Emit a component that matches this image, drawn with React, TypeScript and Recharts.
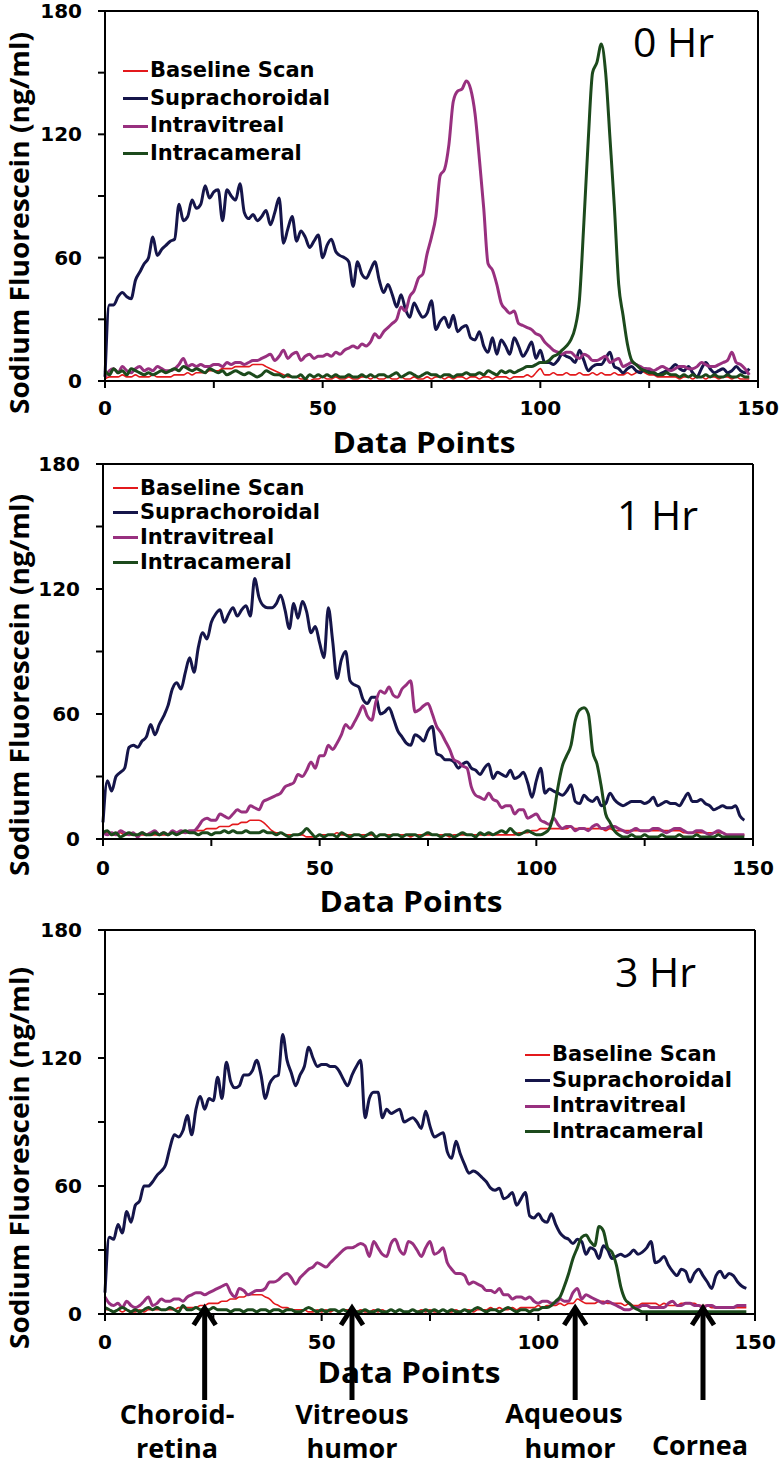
import React from 'react';
import { LineChart, Line, XAxis, YAxis, Legend, ReferenceLine } from 'recharts';

const X_TICKS = [0, 25, 50, 75, 100, 125, 150];
const X_LABELED = [0, 50, 100, 150];
const Y_TICKS = [0, 30, 60, 90, 120, 150, 180];
const Y_LABELED = [0, 60, 120, 180];

const SERIES = [
  { key: 'baseline', name: 'Baseline Scan', color: '#e3191c', width: 1.6 },
  { key: 'supra', name: 'Suprachoroidal', color: '#15154a', width: 3 },
  { key: 'intravitreal', name: 'Intravitreal', color: '#98307f', width: 3 },
  { key: 'intracameral', name: 'Intracameral', color: '#1c4a1c', width: 3 },
];

const HOUR_LABELS = ['0 Hr', '1 Hr', '3 Hr'];
const ARROW_POSITIONS = [23, 57, 108.5, 138];

// ---------- 0 Hr ----------
const baseline0 = [1,2,2,2,3,2,2,3,2,2, 2,3,2,2,2,2,3,3,3,4, 3,4,4,4,5,5,5,6,6,6, 7,7,7,7,8,8,8,7,6,5, 4,3,2,2,2,1,1,0,1,1, 2,1,1,2,1,1,2,1,1,2, 2,1,2,1,1,2,1,1,2,1, 1,2,1,1,2,1,2,2,1,2, 1,2,2,1,2,2,1,2,2,1, 2,2,2,1,2,2,2,3,2,4, 6,3,3,4,3,3,4,3,3,4, 3,3,4,3,4,3,3,4,3,3, 4,3,4,5,4,3,3,2,2,2, 2,2,1,2,2,1,2,2,1,2, 2,1,2,2,1,2,1,1,1];
const supra0 = [2,37,37,41,43,41,40,49,53,57, 60,70,61,64,66,68,69,86,78,80, 88,84,86,95,89,92,93,78,93,90, 88,96,82,79,81,78,80,83,76,82, 89,67,74,80,68,73,70,65,68,71, 60,66,69,63,61,60,58,46,58,52, 50,54,58,49,43,47,42,36,42,35, 31,38,34,31,33,39,25,29,31,26, 32,24,26,27,21,20,24,17,14,21, 13,20,17,13,21,17,12,15,19,11, 15,9,9,8,10,13,12,11,9,15, 10,5,7,8,8,11,14,7,6,4, 6,7,5,4,6,5,4,3,4,5, 6,8,6,5,7,4,2,6,9,6, 4,5,6,4,5,7,5,4,6];
const intravitreal0 = [2,5,6,4,7,5,4,6,7,5, 6,5,7,6,5,5,6,8,11,7, 8,7,8,7,7,8,8,7,9,8, 9,9,8,9,10,10,11,12,13,10, 12,15,11,13,14,10,12,13,11,12, 12,13,12,14,13,15,16,17,16,18, 17,19,23,21,24,26,28,30,36,34, 41,44,50,52,62,70,80,100,103,115, 136,141,142,146,142,130,108,84,57,54, 47,38,35,33,34,28,27,26,25,23, 22,19,17,15,14,13,14,14,12,11, 13,12,10,10,11,12,9,10,11,7, 8,9,8,7,6,6,5,6,7,6, 5,6,7,7,6,6,7,9,8,7, 7,8,9,10,14,9,8,6,3];
const intracameral0 = [5,3,6,4,5,3,6,5,4,3, 4,3,4,5,4,5,6,5,7,6, 5,6,5,4,6,5,4,5,3,4, 5,4,3,4,3,2,3,5,4,3, 3,2,3,2,2,3,1,3,2,3, 2,3,2,3,2,2,3,2,2,3, 2,3,2,3,3,2,3,4,2,3, 4,3,2,3,4,3,3,2,3,3, 2,3,3,4,3,3,4,3,5,4, 3,5,4,5,4,5,6,7,7,8, 9,9,10,12,13,15,17,20,26,40, 77,117,150,155,164,150,118,85,47,32, 18,10,8,6,5,4,4,3,3,4, 3,3,2,3,2,3,2,2,3,2, 3,2,2,3,2,2,3,2,2];

// ---------- 1 Hr ----------
const baseline1 = [2,3,2,2,3,2,2,2,2,2, 2,2,2,2,2,2,3,3,3,3, 3,4,4,4,5,5,5,6,6,6, 7,7,8,8,9,9,9,8,6,4, 3,3,2,2,2,2,2,1,1,1, 2,2,2,2,3,2,2,2,2,2, 2,2,2,1,2,2,2,2,2,2, 2,1,2,2,2,2,2,2,2,2, 1,2,2,2,2,2,2,2,2,2, 2,2,2,2,2,2,3,3,3,4, 4,5,5,5,5,5,5,5,6,5, 5,5,5,5,5,5,4,5,4,4, 4,4,4,4,4,4,4,4,4,4, 4,4,4,4,3,3,3,3,3,3, 3,3,3,3,2,2,2,2,2];
const supra1 = [8,28,23,30,32,34,44,45,44,47, 49,55,50,55,59,64,72,75,72,80, 87,80,92,99,96,104,108,110,104,108, 111,107,110,112,107,125,116,112,111,111, 113,117,110,101,113,106,114,109,99,102, 94,87,111,95,77,86,90,76,74,73, 67,65,68,68,60,61,63,58,52,49, 46,45,50,49,47,52,54,41,40,38, 38,37,34,36,37,34,33,31,34,36, 29,32,31,30,33,29,30,32,27,20, 28,34,22,24,23,22,21,23,26,18, 17,21,19,18,20,16,17,22,19,17, 16,17,18,18,18,17,18,20,16,17, 18,17,17,16,19,22,18,18,19,17, 16,14,15,16,15,15,16,11,9];
const intravitreal1 = [3,2,3,2,4,3,2,3,1,3, 2,3,4,2,3,2,4,3,4,3, 4,4,6,9,10,9,9,12,11,10, 12,14,13,13,16,15,14,18,19,20, 21,22,25,26,27,31,30,33,37,34, 40,40,45,43,46,50,55,53,56,60, 64,59,57,66,71,70,73,69,68,72, 74,76,61,62,64,65,60,54,51,47, 43,38,37,35,34,25,21,20,19,22, 19,18,15,16,16,12,14,14,10,11, 12,9,8,7,10,7,5,6,6,4, 5,5,4,6,7,5,5,6,6,5, 4,3,4,5,4,4,4,5,5,4, 3,4,5,5,4,3,3,4,4,3, 2,3,4,3,2,2,2,2,2];
const intracameral1 = [3,4,2,3,1,2,3,2,2,3, 2,2,3,2,3,2,3,2,3,4, 3,3,2,3,3,2,3,3,4,3, 4,3,3,4,3,3,3,4,3,3, 2,3,2,1,2,2,3,5,3,1, 2,1,2,2,1,3,2,1,2,2, 1,2,3,1,2,2,1,2,2,1, 2,2,2,1,2,3,2,2,1,2, 2,1,2,3,2,2,1,3,2,3, 2,3,4,3,5,3,2,3,4,3, 2,2,3,5,12,25,35,40,45,57, 62,63,60,42,36,25,12,8,4,2, 1,1,2,1,1,2,1,1,1,2, 1,1,1,2,1,1,1,2,1,1, 1,1,2,1,1,1,1,1,1];

// ---------- 3 Hr ----------
const baseline3 = [2,2,1,2,1,2,1,1,2,1, 2,2,2,2,2,2,2,3,3,3, 3,3,4,4,5,5,5,6,6,7, 7,8,8,9,9,9,9,8,7,5, 4,3,3,2,2,2,2,1,1,2, 1,2,1,2,1,2,2,1,1,2, 1,1,2,1,2,1,2,1,2,1, 1,2,1,2,1,2,1,1,2,1, 1,2,1,2,2,1,2,2,2,3, 2,3,2,2,3,2,3,3,3,3, 4,3,4,4,4,5,4,5,5,7, 6,5,5,5,6,6,5,5,5,5, 4,5,4,4,5,5,5,5,4,5, 4,4,4,5,5,5,5,4,4,4, 3,3,3,3,3,3,3,3,3];
const supra3 = [10,36,35,42,38,48,43,51,53,60, 60,62,65,67,70,78,84,83,86,93, 84,96,102,96,101,100,111,101,118,109, 106,107,112,112,114,119,112,101,108,111, 112,131,119,113,107,112,116,125,120,116, 117,117,116,116,114,110,107,112,116,119, 92,101,104,104,92,96,94,95,96,90, 91,92,90,87,95,88,83,84,85,76, 73,81,75,70,66,67,66,64,62,59, 58,59,54,55,57,51,54,57,46,45, 47,44,43,47,42,38,36,35,33,35, 34,28,31,30,26,32,30,26,27,28, 27,28,30,28,29,31,34,24,25,27, 23,20,18,21,20,15,19,21,18,15, 12,18,20,17,19,18,15,13,12];
const intravitreal3 = [8,5,4,5,3,6,4,3,4,6, 8,4,5,7,6,6,7,7,6,8, 9,10,10,9,10,11,12,13,14,10, 8,12,11,9,10,11,11,12,15,15, 16,18,19,17,14,17,19,21,22,24, 23,22,24,26,28,30,31,31,32,33, 32,27,34,31,28,27,33,35,30,28, 34,33,30,27,31,34,28,29,31,24, 21,19,19,18,14,15,14,13,11,11, 10,12,9,9,7,8,8,7,8,6, 5,6,6,5,5,7,6,6,10,12, 7,9,8,7,6,5,6,5,4,3, 2,2,3,3,4,4,3,3,3,3, 5,6,4,4,5,5,4,4,3,4, 4,3,3,3,3,3,4,4,4];
const intracameral3 = [3,2,1,2,3,2,1,2,1,2, 3,2,3,2,2,3,2,1,4,2, 2,3,2,2,2,3,2,2,2,1, 2,2,1,2,2,1,2,2,1,2, 2,1,2,2,1,1,2,3,2,1, 2,1,2,2,1,2,1,2,1,1, 2,1,1,2,1,1,2,1,2,1, 1,2,1,1,2,1,2,1,2,1, 2,1,1,2,1,2,3,2,1,2, 2,1,2,3,2,1,2,2,1,2, 2,3,3,4,6,8,13,19,26,31, 36,37,34,32,41,39,31,29,23,13, 7,5,3,2,1,1,1,1,1,1, 1,1,1,1,1,1,1,1,1,1, 1,1,1,1,1,1,1,1,1];

function build(b: number[], s: number[], iv: number[], ic: number[]) {
  return s.map((_, i) => ({ x: i, baseline: b[i], supra: s[i], intravitreal: iv[i], intracameral: ic[i] }));
}

const data0 = build(baseline0, supra0, intravitreal0, intracameral0);
const data1 = build(baseline1, supra1, intravitreal1, intracameral1);
const data3 = build(baseline3, supra3, intravitreal3, intracameral3);

const TICK_FONT = '"DejaVu Sans", sans-serif';
const TITLE_FONT = '"Open Sans", sans-serif';

const makeXTick = (dy: number) => (props: any) => {
  const { x, y, payload } = props;
  if (!X_LABELED.includes(payload.value)) return <g />;
  return (
    <text x={x} y={y + dy} textAnchor="middle" fontFamily={TICK_FONT} fontWeight="bold" fontSize={20} fill="#000">
      {payload.value}
    </text>
  );
};

const YTick = (props: any) => {
  const { x, y, payload } = props;
  if (!Y_LABELED.includes(payload.value)) return <g />;
  return (
    <text x={x - 16} y={y + 7} textAnchor="end" fontFamily={TICK_FONT} fontWeight="bold" fontSize={20} fill="#000">
      {payload.value}
    </text>
  );
};

const LegendBox = ({ rowH }: { rowH: number }) => (
  <div style={{ display: 'flex', flexDirection: 'column' }}>
    {SERIES.map((s) => (
      <div key={s.key} style={{ display: 'flex', alignItems: 'center', height: rowH }}>
        <span style={{ display: 'inline-block', width: 25, height: s.key === 'baseline' ? 2 : 3, background: s.color, marginRight: 2 }} />
        <span style={{ fontFamily: TICK_FONT, fontWeight: 700, fontSize: 21, lineHeight: `${rowH}px`, color: '#000', whiteSpace: 'nowrap' }}>
          {s.name}
        </span>
      </div>
    ))}
  </div>
);

const ArrowShape = (props: any) => {
  const { x1, y1, y2 } = props;
  const bottom = Math.max(y1, y2);
  const tip = bottom - 9;
  const end = bottom + 86;
  return (
    <g>
      <line x1={x1} y1={tip + 4} x2={x1} y2={end} stroke="#000" strokeWidth={5} />
      <polyline points={`${x1 - 11},${tip + 20} ${x1},${tip + 3} ${x1 + 11},${tip + 20}`} fill="none" stroke="#000" strokeWidth={5} />
    </g>
  );
};

type PanelProps = {
  data: any[];
  top: number;
  height: number;
  margin: { top: number; right: number; bottom: number; left: number };
  legend: { left: number; top: number; rowH: number };
  tickDy: number;
  arrows?: boolean;
};

function Panel({ data, top, height, margin, legend, tickDy, arrows }: PanelProps) {
  return (
    <div style={{ position: 'absolute', left: 0, top, width: 780, height }}>
      <LineChart width={780} height={height} data={data} margin={margin}>
        <XAxis
          dataKey="x"
          type="number"
          domain={[0, 150]}
          ticks={X_TICKS}
          interval={0}
          height={40}
          tickSize={7}
          tickMargin={0}
          axisLine={{ stroke: '#000', strokeWidth: 2 }}
          tickLine={{ stroke: '#000', strokeWidth: 2 }}
          tick={makeXTick(tickDy)}
        />
        <YAxis
          type="number"
          domain={[0, 180]}
          ticks={Y_TICKS}
          interval={0}
          width={60}
          tickSize={7}
          tickMargin={0}
          axisLine={{ stroke: '#000', strokeWidth: 2 }}
          tickLine={{ stroke: '#000', strokeWidth: 2 }}
          tick={YTick}
        />
        <ReferenceLine y={180} stroke="#000" strokeWidth={2} />
        <ReferenceLine x={150} stroke="#000" strokeWidth={2} />
        {SERIES.map((s) => (
          <Line
            key={s.key}
            type="monotone"
            dataKey={s.key}
            name={s.name}
            stroke={s.color}
            strokeWidth={s.width}
            dot={false}
            activeDot={false}
            isAnimationActive={false}
          />
        ))}
        {arrows &&
          ARROW_POSITIONS.map((a) => <ReferenceLine key={`arrow-${a}`} x={a} stroke="none" shape={ArrowShape} />)}
        <Legend
          layout="vertical"
          align="center"
          verticalAlign="middle"
          wrapperStyle={{ position: 'absolute', left: legend.left, top: legend.top, width: 'auto', height: 'auto' }}
          content={() => <LegendBox rowH={legend.rowH} />}
        />
      </LineChart>
    </div>
  );
}

const titleStyle = { fontFamily: TITLE_FONT, fontWeight: 700, fill: '#000' } as const;

export default function App() {
  return (
    <div style={{ position: 'absolute', left: 0, top: 0, width: 780, height: 1468, background: '#fff', overflow: 'hidden' }}>
      <Panel data={data0} top={0} height={460} margin={{ top: 11, right: 22, bottom: 39, left: 45 }} legend={{ left: 123, top: 57, rowH: 27.7 }} tickDy={27} />
      <Panel data={data1} top={450} height={460} margin={{ top: 14, right: 27, bottom: 31, left: 43 }} legend={{ left: 113, top: 25.7, rowH: 24.7 }} tickDy={29} />
      <Panel data={data3} top={910} height={558} margin={{ top: 20, right: 25, bottom: 114, left: 45 }} legend={{ left: 525, top: 132, rowH: 25.7 }} tickDy={28} arrows />
      <svg width={780} height={1468} style={{ position: 'absolute', left: 0, top: 0, pointerEvents: 'none' }}>
        {/* hour labels */}
        <text x={633} y={57} fontFamily={TITLE_FONT} fontSize={41} fill="#000">{HOUR_LABELS[0]}</text>
        <text x={617} y={530} fontFamily={TITLE_FONT} fontSize={41} fill="#000">{HOUR_LABELS[1]}</text>
        <text x={615} y={987} fontFamily={TITLE_FONT} fontSize={41} fill="#000">{HOUR_LABELS[2]}</text>
        {/* y titles */}
        {[223, 685, 1158].map((cy) => (
          <text key={cy} x={29} y={cy} transform={`rotate(-90, 29, ${cy})`} textAnchor="middle" fontSize={27} textLength={382} lengthAdjust="spacingAndGlyphs" {...titleStyle}>
            Sodium Fluorescein (ng/ml)
          </text>
        ))}
        {/* x titles */}
        {[
          [424, 453],
          [411, 912],
          [409, 1383],
        ].map(([cx, by]) => (
          <text key={by} x={cx} y={by} textAnchor="middle" fontSize={29} textLength={183} lengthAdjust="spacingAndGlyphs" {...titleStyle}>
            Data Points
          </text>
        ))}
        {/* region labels */}
        <text x={177} y={1424} textAnchor="middle" fontSize={27} {...titleStyle}>Choroid-</text>
        <text x={177} y={1458} textAnchor="middle" fontSize={27} {...titleStyle}>retina</text>
        <text x={352} y={1424} textAnchor="middle" fontSize={27} {...titleStyle}>Vitreous</text>
        <text x={352} y={1458} textAnchor="middle" fontSize={27} {...titleStyle}>humor</text>
        <text x={564} y={1423} textAnchor="middle" fontSize={27} {...titleStyle}>Aqueous</text>
        <text x={570} y={1458} textAnchor="middle" fontSize={27} {...titleStyle}>humor</text>
        <text x={700} y={1455} textAnchor="middle" fontSize={27} {...titleStyle}>Cornea</text>
      </svg>
    </div>
  );
}
